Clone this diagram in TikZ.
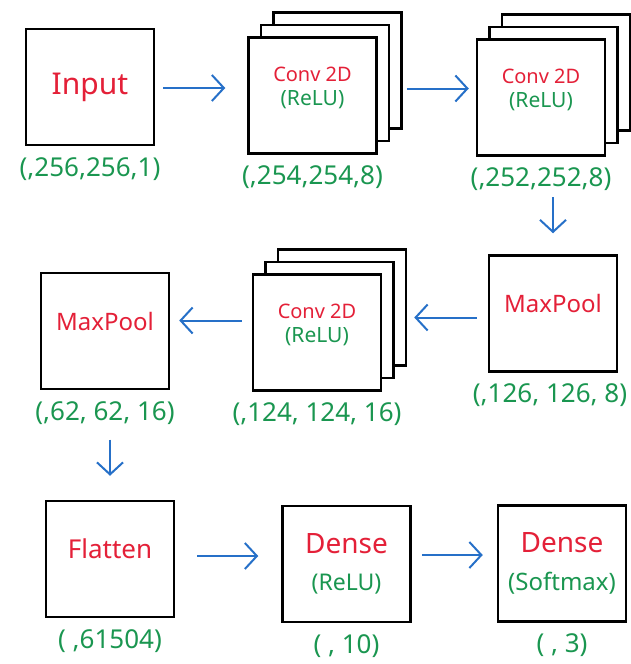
\documentclass[tikz,border=0pt]{standalone}
\usepackage{fontspec}
\setmainfont{Noto Sans}
\usepackage{tikz}
\usetikzlibrary{positioning,shadows,arrows.meta}
\definecolor{netred}{RGB}{228,32,56}
\definecolor{netgreen}{RGB}{26,150,80}
\definecolor{netblue}{RGB}{38,112,200}
\newcommand{\lname}[2][28]{\textcolor{netred}{\fontsize{#1}{#1}\selectfont #2}}
\newcommand{\lact}[2][21]{\textcolor{netgreen}{\fontsize{#1}{#1}\selectfont #2}}
\tikzset{node distance=11pt, auto,
  layerbox/.style={draw=black, fill=white, line width=2.5pt, minimum width=128pt,
    minimum height=116pt, align=center, inner sep=0pt},
  stackbox/.style={layerbox, text depth=18pt,
    copy shadow={shadow xshift=25pt, shadow yshift=25pt, line width=2.5pt},
    copy shadow={shadow xshift=12.5pt, shadow yshift=12.5pt, line width=2.5pt}},
  dims/.style={text=netgreen, inner sep=0pt, font=\fontsize{26}{30}\selectfont},
  flow/.style={draw=netblue, line width=2pt, -{Straight Barb[length=12pt,width=26pt]}},
}

\begin{document}
\begin{tikzpicture}[x=1pt, y=-1pt]
  \useasboundingbox (0,0) rectangle (631,664);

  % first row
  \node[layerbox] (in) at (90,87) {\lname[30]{Input}};
  \node[stackbox] (c1) at (312.5,95.5) {\lname[20]{Conv 2D}\\[8pt]\lact{(ReLU)}};
  \node[stackbox] (c2) at (541,97.5) {\lname[20]{Conv 2D}\\[8pt]\lact{(ReLU)}};
  \node[dims, below=of in] (inD) {(,256,256,1)};
  \node[dims, below=of c1] (c1D) {(,254,254,8)};
  \node[dims, below=of c2] (c2D) {(,252,252,8)};

  % second row
  \node[layerbox, text depth=20pt] (mp1) at (553,313.5) {\lname[24]{MaxPool}};
  \node[stackbox] (c3) at (317,332.5) {\lname[20]{Conv 2D}\\[8pt]\lact{(ReLU)}};
  \node[layerbox, text depth=20pt] (mp2) at (105,331) {\lname[24]{MaxPool}};
  \node[dims, below=of mp1, xshift=-3pt] (mp1D) {(,126, 126, 8)};
  \node[dims, below=of c3] (c3D) {(,124, 124, 16)};
  \node[dims, below=of mp2] (mp2D) {(,62, 62, 16)};

  % third row
  \node[layerbox, text depth=20pt] (fl) at (110,559) {\lname[26]{Flatten}};
  \node[layerbox] (d1) at (346.5,564) {\lname[28]{Dense}\\[19pt]\lact[23]{(ReLU)}};
  \node[layerbox] (d2) at (562,563.5) {\lname[28]{Dense}\\[19pt]\lact[24]{(Softmax)}};
  \node[dims, below=of fl] (flD) {( ,61504)};
  \node[dims, below=of d1] (d1D) {( , 10)};
  \node[dims, below=of d2] (d2D) {( , 3)};

  \draw[flow, shorten <=8pt, shorten >=22pt] ([yshift=-1pt]in.east) -- ([yshift=-1pt]in.east -| c1.west);
  \draw[flow, shorten <=29pt, shorten >=7pt] ([yshift=7pt]c1.east) -- ([yshift=7pt]c1.east -| c2.west);
  \draw[flow, shorten <=6pt, shorten >=21pt] (mp1.north |- c2D.south) -- (mp1.north);
  \draw[flow, shorten <=11pt, shorten >=32pt] ([yshift=-4pt]mp1.west) -- ([yshift=-4pt]mp1.west -| c3.east);
  \draw[flow, shorten <=10pt, shorten >=9pt] ([yshift=12pt]c3.west) -- ([yshift=12pt]c3.west -| mp2.east);
  \draw[flow, shorten <=15pt, shorten >=24pt] (fl.north |- mp2D.south) -- (fl.north);
  \draw[flow, shorten <=22pt, shorten >=23pt] ([yshift=3pt]fl.east) -- ([yshift=3pt]fl.east -| d1.west);
  \draw[flow, shorten <=10pt, shorten >=14pt] ([yshift=9pt]d1.east) -- ([yshift=9pt]d1.east -| d2.west);
\end{tikzpicture}
\end{document}
